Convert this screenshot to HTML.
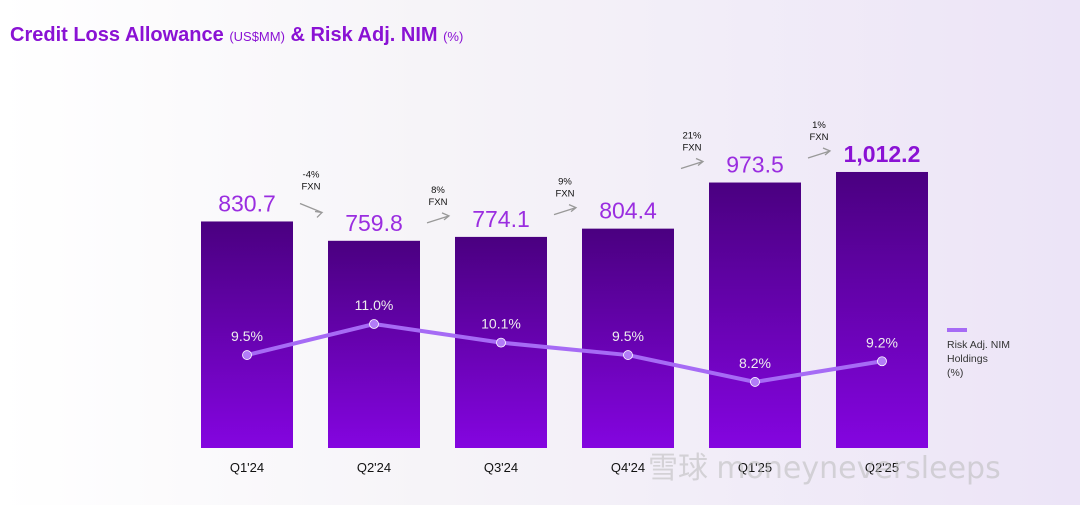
<!DOCTYPE html>
<html><head><meta charset="utf-8"><style>
body{margin:0;width:1080px;height:500px;overflow:hidden;font-family:"Liberation Sans",sans-serif;background:linear-gradient(90deg,#ffffff 0%,#f6f4f8 40%,#ece4f7 100%);}
</style></head><body>
<svg width="1080" height="500">
<defs><linearGradient id="bg" x1="0" y1="0" x2="0" y2="1"><stop offset="0" stop-color="#4a0080"/><stop offset="1" stop-color="#8405e0"/></linearGradient></defs>
<text x="10" y="41" font-size="20" font-weight="bold" fill="#8a12d4">Credit Loss Allowance <tspan font-size="13" font-weight="normal">(US$MM)</tspan> &amp; Risk Adj. NIM <tspan font-size="13" font-weight="normal">(%)</tspan></text>
<g id="bars"></g><g id="line"></g><g id="ann"></g>
<rect x="947" y="328" width="20" height="4" fill="#a66bf5"/>
<text x="947" y="348" font-size="10.5" fill="#333"><tspan x="947">Risk Adj. NIM</tspan><tspan x="947" dy="14">Holdings</tspan><tspan x="947" dy="14">(%)</tspan></text>
<text x="648" y="478" font-size="30" fill="#bbb" opacity="0.55">雪球 <tspan font-family="DejaVu Sans">moneyneversleeps</tspan></text>
</svg>
<script>
const categories=["Q1'24","Q2'24","Q3'24","Q4'24","Q1'25","Q2'25"];
const allowance=[830.7,759.8,774.1,804.4,973.5,1012.2];
const allowanceLabels=["830.7","759.8","774.1","804.4","973.5","1,012.2"];
const nim=[9.5,11.0,10.1,9.5,8.2,9.2];
const growth=["-4%","8%","9%","21%","1%"];
const ns="http://www.w3.org/2000/svg";
const x=i=>247+i*127, yb=v=>448-v*0.2727, yl=v=>551.7-v*20.7;
function mk(p,t,a){const e=document.createElementNS(ns,t);for(const k in a)e.setAttribute(k,a[k]);document.getElementById(p).appendChild(e);return e;}
categories.forEach((c,i)=>{
 const r=mk('bars','rect',{x:x(i)-46,y:yb(allowance[i]),width:92,height:448-yb(allowance[i]),fill:'url(#bg)'});
 
 
 const last=i===categories.length-1;
 const t=mk('bars','text',{x:x(i),y:yb(allowance[i])-10,'text-anchor':'middle','font-size':23,'font-weight':last?'bold':'normal',fill:last?'#8a12d4':'#9a2de0'});
 t.textContent=allowanceLabels[i];
 
 
 const l=mk('bars','text',{x:x(i),y:472,'text-anchor':'middle','font-size':13,fill:'#111'});
 l.textContent=c;
 
 
});
const pl=mk('line','polyline',{points:nim.map((v,i)=>x(i)+','+yl(v)).join(' '),fill:'none',stroke:'#a66bf5','stroke-width':4});


nim.forEach((v,i)=>{
 const c=mk('line','circle',{cx:x(i),cy:yl(v),r:4.5,fill:'#b27cf7',stroke:'#fff','stroke-width':0.8});
 
 
 const t=mk('line','text',{x:x(i),y:yl(v)-14,'text-anchor':'middle','font-size':14,fill:'#eee'});
 t.textContent=v.toFixed(1)+'%';
 
 
});
growth.forEach((g,i)=>{
 const mx=x(i)+63, ty=Math.min(yb(allowance[i]),yb(allowance[i+1]))-44;
 const t=mk('ann','text',{x:mx+1,y:ty,'text-anchor':'middle','font-size':9.5,fill:'#111'});
 t.innerHTML='<tspan x="'+(mx+1)+'">'+g+'</tspan><tspan x="'+(mx+1)+'" dy="12">FXN</tspan>';
 
 
 const down=allowance[i+1]<allowance[i];
 const y1=ty+26, y2=down?y1+9:y1-7;
 const x1=mx-10,x2=mx+12;
 const a=mk('ann','path',{d:`M${x1},${down?y1:y1+4} L${x2},${down?y2:y2+4} M${x2-7},${down?y2-1:y2+1} L${x2},${down?y2:y2+4} L${x2-5},${down?y2+5:y2+8}`,fill:'none',stroke:'#999','stroke-width':1.3});
 
 
});
</script>
</body></html>
